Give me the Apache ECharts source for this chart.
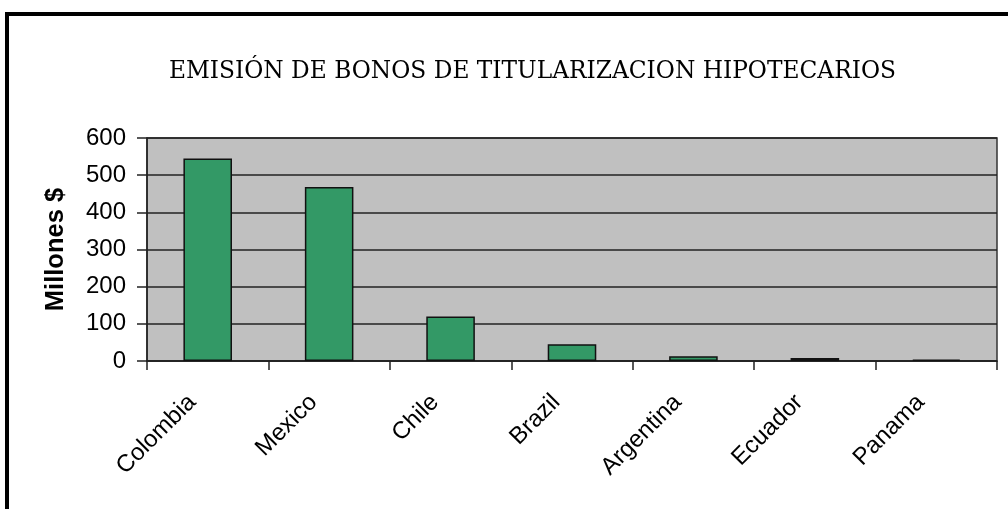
<!DOCTYPE html>
<html style="height: 100%">
<head>
<meta charset="utf-8">
<script src="https://cdn.jsdelivr.net/npm/echarts@6/dist/echarts.min.js"></script>
</head>
<body style="height: 100%; margin: 0; background: #fff">
<div id="container" style="width: 1008px; height: 509px"></div>
<script type="text/javascript">
var countries = ['Colombia', 'Mexico', 'Chile', 'Brazil', 'Argentina', 'Ecuador', 'Panama'];
var emissions = [545, 468, 120, 45, 13, 8, 4];
var yTicks = [0, 100, 200, 300, 400, 500, 600];

var myChart = echarts.init(document.getElementById('container'));
var option = {
    backgroundColor: '#fff',
    animation: false,
    title: {
        text: 'EMISIÓN DE BONOS DE TITULARIZACION HIPOTECARIOS',
        left: 164,
        top: 55,
        textStyle: {
            fontFamily: 'DejaVu Serif',
            fontWeight: 'normal',
            fontSize: 23.3,
            color: '#000'
        }
    },
    graphic: [{
        type: 'rect',
        shape: { x: 7, y: 14, width: 1100, height: 600 },
        style: { fill: 'none', stroke: '#000', lineWidth: 4 },
        silent: true
    }],
    grid: {
        left: 147, right: 11, top: 138, bottom: 148,
        show: true,
        backgroundColor: '#c0c0c0',
        borderColor: '#333',
        borderWidth: 1.5
    },
    xAxis: {
        type: 'category',
        data: countries,
        axisLine: { lineStyle: { color: '#222', width: 1.5 } },
        axisTick: { show: true, length: 9, lineStyle: { color: '#222', width: 1.5 } },
        axisLabel: {
            rotate: 45,
            margin: 22,
            padding: [0, 22, 0, 0],
            fontFamily: 'Liberation Sans',
            fontSize: 24,
            color: '#000'
        }
    },
    yAxis: {
        type: 'value',
        min: yTicks[0],
        max: yTicks[yTicks.length - 1],
        interval: 100,
        name: 'Millones $',
        nameLocation: 'middle',
        nameGap: 78,
        nameTextStyle: {
            fontFamily: 'Liberation Sans',
            fontWeight: 'bold',
            fontSize: 25.5,
            color: '#000'
        },
        axisLine: { show: true, lineStyle: { color: '#222', width: 1.5 } },
        axisTick: { show: true, length: 10, lineStyle: { color: '#222', width: 1.5 } },
        axisLabel: {
            margin: 21,
            fontFamily: 'Liberation Sans',
            fontSize: 24,
            color: '#000'
        },
        splitLine: { lineStyle: { color: '#222', width: 1.5 } }
    },
    series: [{
        type: 'bar',
        data: emissions,
        barWidth: '40%',
        itemStyle: {
            color: '#339966',
            borderColor: '#111',
            borderWidth: 1.5
        }
    }]
};
myChart.setOption(option);
</script>
</body>
</html>
